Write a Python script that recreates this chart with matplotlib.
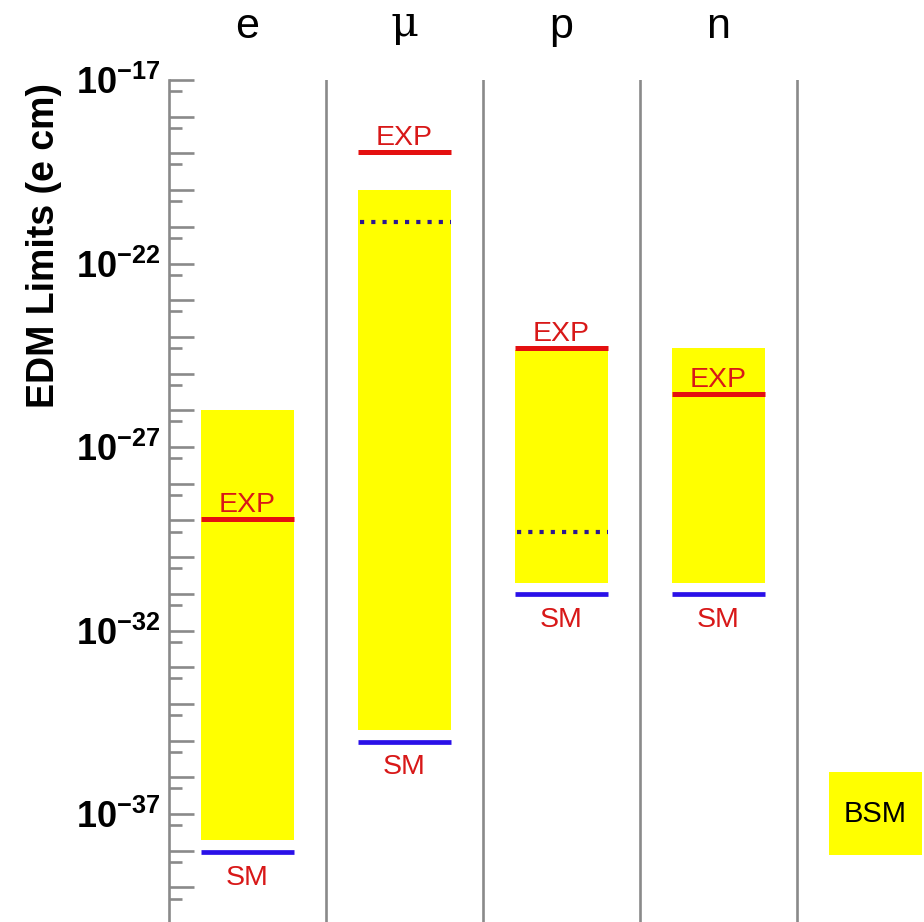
import matplotlib
matplotlib.use('Agg')
import matplotlib.pyplot as plt
import numpy as np

plt.rcParams['font.family'] = ['Liberation Sans', 'DejaVu Sans']
plt.rcParams['mathtext.fontset'] = 'custom'
plt.rcParams['mathtext.rm'] = 'Liberation Sans:bold'
plt.rcParams['mathtext.bf'] = 'Liberation Sans:bold'
plt.rcParams['mathtext.it'] = 'Liberation Sans:bold'

# particles and values (log10 of e cm)
particles = ['e', 'μ', 'p', 'n']
bsm_top = [-26.0, -20.0, -24.35, -24.31]
bsm_bottom = [-37.7, -34.71, -30.71, -30.71]
exp_limit = [-28.97, -18.97, -24.31, -25.56]
sm_value = [-38.03, -35.03, -31.01, -31.01]
# dotted blue lines (only mu and p)
dotted_value = [None, -20.86, -29.31, None]
# legend box "BSM"
legend_box = [-35.85, -38.12]

label_exps = [-17, -22, -27, -32, -37]

yellow = '#ffff00'
red = '#e41010'
blue = '#2a10e8'
navy = '#2c1890'
grey = '#8a8a8a'
txt_red = '#d81818'

W, H = 924, 922
fig = plt.figure(figsize=(W / 100, H / 100), dpi=100)
ax = fig.add_axes([169 / W, 0, (W - 169) / W, 842 / H])

bar_w = 0.59
xs = np.arange(len(particles)) + 0.5

for i in range(len(particles)):
    x = xs[i]
    lo, hi = 10 ** bsm_bottom[i], 10 ** bsm_top[i]
    ax.bar(x, hi - lo, bottom=lo, width=bar_w, color=yellow, zorder=1)
    ax.hlines(10 ** exp_limit[i], x - bar_w / 2, x + bar_w / 2, color=red, lw=3.6, zorder=3)
    ax.hlines(10 ** sm_value[i], x - bar_w / 2, x + bar_w / 2, color=blue, lw=3.4, zorder=3)
    if dotted_value[i] is not None:
        ax.hlines(10 ** dotted_value[i], x - bar_w / 2 + 0.01, x + bar_w / 2, color=navy, lw=3.0,
                  linestyles=[(0, (1, 1.7))], zorder=3)
    ax.annotate('EXP', xy=(x, 10 ** exp_limit[i]), xytext=(0, 5), textcoords='offset points',
                ha='center', va='baseline', fontsize=20.5, color=txt_red, zorder=4)
    ax.annotate('SM', xy=(x, 10 ** sm_value[i]), xytext=(0, -23.5), textcoords='offset points',
                ha='center', va='baseline', fontsize=20.5, color=txt_red, zorder=4)
    if particles[i] == 'μ':
        ax.annotate(particles[i], xy=(x, 1), xycoords=('data', 'axes fraction'),
                    xytext=(0, 32), textcoords='offset points', ha='center', va='baseline',
                    fontsize=31, family='DejaVu Serif')
    else:
        ax.annotate(particles[i], xy=(x, 1), xycoords=('data', 'axes fraction'),
                    xytext=(0, 30), textcoords='offset points', ha='center', va='baseline',
                    fontsize=31)

# BSM legend box
bx = len(particles) + 0.5
ax.bar(bx, 10 ** legend_box[0] - 10 ** legend_box[1], bottom=10 ** legend_box[1],
       width=bar_w, color=yellow, zorder=1)
ax.text(bx, 10 ** ((legend_box[0] + legend_box[1]) / 2), 'BSM', ha='center', va='center',
        fontsize=21, color='black')

# column separators
for k in range(1, len(particles) + 1):
    ax.axvline(k, color=grey, lw=1.9, zorder=2)

ax.set_yscale('log')
ax.set_ylim(10 ** -39.94, 1e-17)
ax.set_xlim(0, (W - 169) / 157)

major = [10.0 ** k for k in range(-40, -16)]
minor = [5 * 10.0 ** k for k in range(-41, -17)]
ax.yaxis.set_major_locator(matplotlib.ticker.FixedLocator(major))
ax.yaxis.set_minor_locator(matplotlib.ticker.FixedLocator(minor))
ax.yaxis.set_major_formatter(matplotlib.ticker.FuncFormatter(
    lambda v, p: r'$\mathbf{10^{%d}}$' % round(np.log10(v)) if round(np.log10(v)) in label_exps else ''))
ax.yaxis.set_minor_formatter(matplotlib.ticker.NullFormatter())
ax.tick_params(axis='y', which='major', direction='in', length=18, width=1.9, color=grey,
               labelsize=26, pad=6)
ax.tick_params(axis='y', which='minor', direction='in', length=9.5, width=1.9, color=grey)
ax.set_xticks([])

for s in ['top', 'right', 'bottom']:
    ax.spines[s].set_visible(False)
ax.spines['left'].set_color(grey)
ax.spines['left'].set_linewidth(1.9)

fig.text(44 / W, 1 - 245 / H, 'EDM Limits (e cm)', rotation=90, ha='center', va='center',
         fontsize=27, fontweight='bold')

fig.savefig('out.png', dpi=100)
